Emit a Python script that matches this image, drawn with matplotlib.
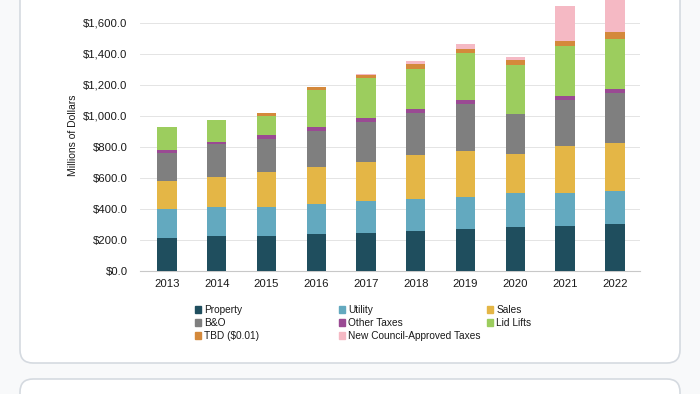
import matplotlib
matplotlib.use("Agg")
import matplotlib.pyplot as plt
import numpy as np
from matplotlib.patches import FancyBboxPatch, Patch
from matplotlib.ticker import FuncFormatter

plt.rcParams['font.family'] = ['Liberation Sans', 'DejaVu Sans']

years = ['2013', '2014', '2015', '2016', '2017', '2018', '2019', '2020', '2021', '2022']

property_tax = [215, 223, 228, 236, 243, 260, 268, 283, 292, 303]
utility = [182, 187, 186, 193, 206, 204, 209, 217, 210, 214]
sales = [183, 198, 222, 239, 255, 281, 294, 254, 301, 305]
b_and_o = [182, 210, 216, 236, 256, 273, 307, 257, 298, 322]
other_taxes = [17, 13, 22, 24, 23, 28, 26, 3, 26, 26]
lid_lifts = [148, 139, 124, 236, 258, 257, 298, 314, 320, 322]
tbd = [0, 0, 18, 21, 21, 28, 28, 28, 32, 50]
new_council = [0, 0, 0, 0, 5, 22, 32, 19, 230, 250]

series = [
    ('Property', property_tax, '#1f4e5e'),
    ('Utility', utility, '#63a9bf'),
    ('Sales', sales, '#e4b646'),
    ('B&O', b_and_o, '#7f7f7f'),
    ('Other Taxes', other_taxes, '#9a4a93'),
    ('Lid Lifts', lid_lifts, '#9ccd5e'),
    ('TBD ($0.01)', tbd, '#d4893b'),
    ('New Council-Approved Taxes', new_council, '#f5b9c4'),
]

fig = plt.figure(figsize=(7, 3.94), dpi=100)
fig.patch.set_facecolor('#f8f9fa')

# white cards behind the chart
card = FancyBboxPatch((0.2, 0.31), 6.6, 4.5, boxstyle="round,pad=0,rounding_size=0.13",
                      transform=fig.dpi_scale_trans, facecolor='white',
                      edgecolor='#d5dae0', linewidth=1.2, zorder=-2)
card2 = FancyBboxPatch((0.2, -1.0), 6.6, 1.15, boxstyle="round,pad=0,rounding_size=0.13",
                       transform=fig.dpi_scale_trans, facecolor='white',
                       edgecolor='#d5dae0', linewidth=1.2, zorder=-2)
fig.patches.extend([card, card2])

ax = fig.add_axes([0.2, 1 - 271 / 394, 0.714, 271 / 394])
ax.set_facecolor('none')

x = np.arange(len(years))
bottom = np.zeros(len(years))
for label, vals, color in series:
    ax.bar(x, vals, bottom=bottom, width=0.39, color=color, label=label, zorder=3)
    bottom += np.array(vals)

ax.set_xlim(-0.54, 9.5)
ax.set_ylim(0, 1745)
ax.set_yticks(np.arange(0, 1601, 200))
ax.yaxis.set_major_formatter(FuncFormatter(lambda v, p: '${:,.1f}'.format(v)))
ax.set_xticks(x)
ax.set_xticklabels(years)
ax.grid(axis='y', color='#e4e4e4', linewidth=0.7, zorder=0)
for s in ['top', 'right', 'left']:
    ax.spines[s].set_visible(False)
ax.spines['bottom'].set_color('#c8c8c8')
ax.tick_params(axis='both', length=0, labelsize=8.2, colors='#1a1a1a')
ax.tick_params(axis='y', pad=9)
ax.tick_params(axis='x', pad=6)
ax.set_ylabel('Millions of Dollars', fontsize=7.5, color='#1a1a1a', labelpad=4)

# legend in three fixed-width columns, like Excel
cols = [[0, 3, 6], [1, 4, 7], [2, 5]]
col_x = [195, 339, 487]
for cx, idx in zip(col_x, cols):
    handles = [Patch(color=series[i][2]) for i in idx]
    labels = [series[i][0] for i in idx]
    leg = fig.legend(handles, labels, loc='upper left',
                     bbox_to_anchor=(cx / 700, 1 - 305 / 394), frameon=False,
                     fontsize=7.3, handlelength=0.6, handleheight=0.6,
                     handletextpad=0.3, labelspacing=0.3, borderaxespad=0,
                     borderpad=0)
    for t in leg.get_texts():
        t.set_color('#1a1a1a')

fig.savefig('out.png', dpi=100, facecolor=fig.get_facecolor())
